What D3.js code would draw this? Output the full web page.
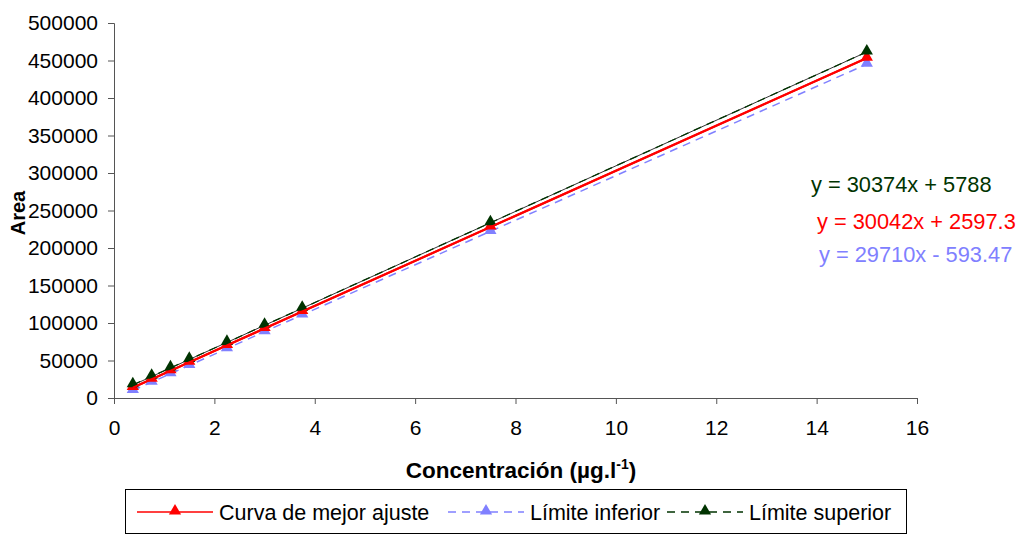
<!DOCTYPE html>
<html>
<head>
<meta charset="utf-8">
<script src="https://cdn.jsdelivr.net/npm/d3@7"></script>
<style>
  body { margin: 0; background: #fff; }
  svg { font-family: Arial, "Liberation Sans", sans-serif; }
  .tick text { font-size: 21px; fill: #000; }
  .tick line, .domain { stroke: #555; }
</style>
</head>
<body>
<div id="chart"></div>
<script>
var svgWidth = 1016;
var svgHeight = 536;

// concentration (x) and areas for the three series
var concentracion = [0.375, 0.75, 1.125, 1.5, 2.25, 3, 3.75, 7.5, 15];
var curvaMejorAjuste = [13900, 25100, 36400, 47700, 70200, 92700, 115300, 227900, 453200];
var limiteInferior = [10000, 21200, 32300, 43500, 65800, 88500, 110800, 222200, 445100];
var limiteSuperior = [17600, 28900, 40200, 51500, 74100, 96900, 119700, 233600, 461400];

// trendline equations shown on the chart
var pendientes = [30042, 29710, 30374];
var intercepts = [2597.3, -593.47, 5788];
var ecuaciones = ["y = 30042x + 2597.3", "y = 29710x - 593.47", "y = 30374x + 5788"];
var nombres = ["Curva de mejor ajuste", "Límite inferior", "Límite superior"];

var xTicks = [0, 2, 4, 6, 8, 10, 12, 14, 16];
var yTicks = [0, 50000, 100000, 150000, 200000, 250000, 300000, 350000, 400000, 450000, 500000];

var margin = { top: 23, right: 99, bottom: 138, left: 114 };
var width = svgWidth - margin.left - margin.right;
var height = svgHeight - margin.top - margin.bottom;

var svg = d3.select("#chart")
  .append("svg")
  .attr("width", svgWidth)
  .attr("height", svgHeight);

var chartGroup = svg.append("g")
  .attr("transform", `translate(${margin.left}, ${margin.top})`);

var xScale = d3.scaleLinear().domain([0, 16]).range([0, width]);
var yScale = d3.scaleLinear().domain([0, 500000]).range([height, 0]);

// axes
chartGroup.append("g")
  .attr("transform", `translate(0, ${height})`)
  .call(d3.axisBottom(xScale).tickValues(xTicks).tickSize(6).tickSizeOuter(6).tickPadding(16).tickFormat(d3.format("d")));

chartGroup.append("g")
  .call(d3.axisLeft(yScale).tickValues(yTicks).tickSize(6).tickSizeOuter(6).tickPadding(10).tickFormat(d3.format("d")));

var series = [
  { name: nombres[0], values: curvaMejorAjuste, color: "#ff0000", dash: null, width: 2.2 },
  { name: nombres[1], values: limiteInferior, color: "#8080ff", dash: "8,6", width: 1.5 },
  { name: nombres[2], values: limiteSuperior, color: "#003300", dash: "8,6", width: 1.3 }
];

var line = d3.line()
  .x((d, i) => xScale(concentracion[i]))
  .y(d => yScale(d));

var tri = d3.symbol().type(d3.symbolTriangle).size(65);

// thin trendline of the upper limit
var xMin = d3.min(concentracion), xMax = d3.max(concentracion);
chartGroup.append("line")
  .attr("x1", xScale(xMin)).attr("y1", yScale(pendientes[2] * xMin + intercepts[2]))
  .attr("x2", xScale(xMax)).attr("y2", yScale(pendientes[2] * xMax + intercepts[2]))
  .attr("stroke", "#000").attr("stroke-width", 0.8);

series.slice().reverse().forEach(function(s) {
  chartGroup.append("path")
    .datum(s.values)
    .attr("d", line)
    .attr("fill", "none")
    .attr("stroke", s.color)
    .attr("stroke-width", s.width)
    .attr("stroke-dasharray", s.dash);
});

[1, 0, 2].forEach(function(k) {
  var s = series[k];
  chartGroup.selectAll(null).data(s.values).enter()
    .append("path")
    .attr("d", tri)
    .attr("transform", (d, i) => `translate(${xScale(concentracion[i])}, ${yScale(d) - 1})`)
    .attr("fill", s.color);
});

// red trendline on top
chartGroup.append("line")
  .attr("x1", xScale(xMin)).attr("y1", yScale(pendientes[0] * xMin + intercepts[0]))
  .attr("x2", xScale(xMax)).attr("y2", yScale(pendientes[0] * xMax + intercepts[0]))
  .attr("stroke", "#ff0000").attr("stroke-width", 2);

// equations
var eqPos = [[817, 229], [819, 262], [811, 192]];
[2, 0, 1].forEach(function(k) {
  svg.append("text")
    .attr("x", eqPos[k][0])
    .attr("y", eqPos[k][1])
    .attr("font-size", 21.8)
    .attr("fill", series[k].color)
    .text(ecuaciones[k]);
});

// axis titles
svg.append("text")
  .attr("transform", "translate(25, 213) rotate(-90)")
  .attr("text-anchor", "middle")
  .attr("font-size", 20)
  .attr("font-weight", "bold")
  .text("Area");

var xTitle = svg.append("text")
  .attr("x", 521)
  .attr("y", 478)
  .attr("text-anchor", "middle")
  .attr("font-size", 22.5)
  .attr("font-weight", "bold");
xTitle.append("tspan").text("Concentración (µg.l");
xTitle.append("tspan").attr("font-size", 14).attr("dy", -9).text("-1");
xTitle.append("tspan").attr("dy", 9).text(")");

// legend
var legend = svg.append("g");
legend.append("rect")
  .attr("x", 125.5).attr("y", 489.5)
  .attr("width", 781).attr("height", 44)
  .attr("fill", "#fff").attr("stroke", "#000");

var legendX = [137, 448, 667];
series.forEach(function(s, k) {
  var g = legend.append("g").attr("transform", `translate(${legendX[k]}, 512)`);
  g.append("line")
    .attr("x1", 0).attr("x2", 76)
    .attr("stroke", s.color)
    .attr("stroke-width", k === 0 ? 1.5 : 1.3)
    .attr("stroke-dasharray", s.dash ? "8,6" : null);
  g.append("path").attr("d", tri).attr("transform", "translate(38, -1)").attr("fill", s.color);
  g.append("text")
    .attr("x", 82)
    .attr("y", 8)
    .attr("font-size", 21.5)
    .text(s.name);
});
</script>
</body>
</html>
